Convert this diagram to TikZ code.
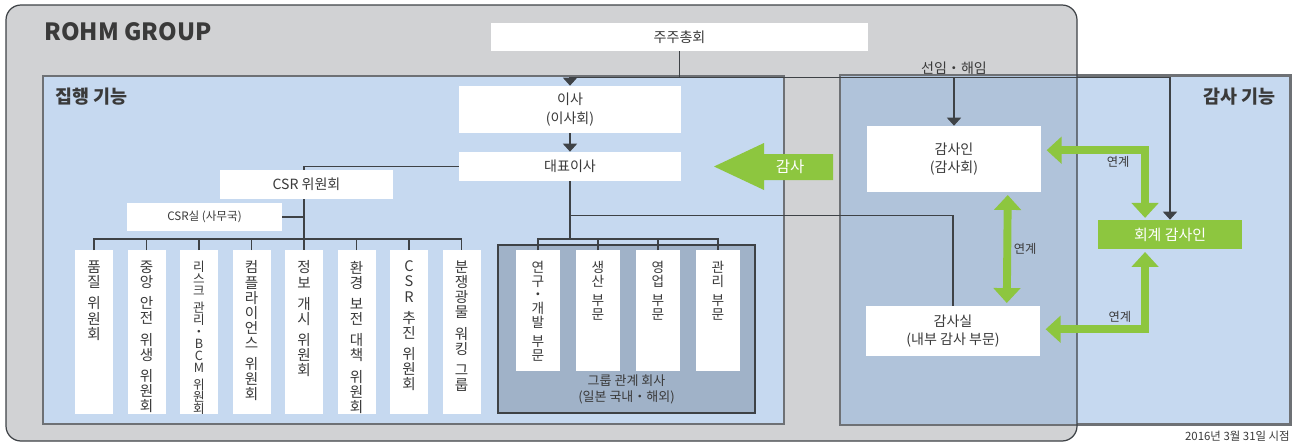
\documentclass[tikz,border=0pt]{standalone}
\usepackage{fontspec}
\setmainfont{Noto Sans CJK KR}
\usetikzlibrary{arrows.meta,positioning}
\definecolor{rohmgray}{HTML}{D1D2D4}
\definecolor{execblue}{HTML}{C6D9F0}
\definecolor{overblue}{HTML}{B0C3DA}
\definecolor{grpblue}{HTML}{A0B2C8}
\definecolor{audgreen}{HTML}{8DC63F}
\definecolor{frame}{HTML}{6E7175}
\definecolor{wirec}{HTML}{3E4246}
\definecolor{txt}{HTML}{3A3A3A}
\def\pxu{0.02cm}
\tikzset{
  sz/.style 2 args={minimum width=#1*\pxu,minimum height=#2*\pxu},
  wbox/.style={fill=white,inner sep=0pt,text=txt,align=center,font=\fontsize{8}{10.5}\selectfont},
  vbox/.style={fill=white,anchor=north,inner sep=0pt},
  vlab/.style={anchor=north,yshift=-6pt,inner sep=0pt,align=center,text=txt,font=\fontsize{8.3}{8.6}\selectfont},
  dlab/.style={vlab,font=\fontsize{7.8}{7.9}\selectfont},
  panel/.style={draw=frame,line width=1pt,inner sep=0pt},
  title/.style={text=txt,font=\bfseries\fontsize{10.5}{12}\selectfont,inner sep=0pt},
  wire/.style={draw=wirec,line width=0.6pt},
  tri/.style={wire,-{Triangle[width=8pt,length=4.5pt]}},
  link/.style={draw=audgreen,line width=4.5pt,arrows={Triangle[width=15pt,length=8.5pt]-Triangle[width=15pt,length=8.5pt]}},
  note/.style={text=txt,font=\fontsize{7}{8}\selectfont,inner sep=1.5pt}
}
\begin{document}
\begin{tikzpicture}[x=0.02cm,y=-0.02cm]
\useasboundingbox (0,0) rectangle (1293,443);
%group frame
\fill[rohmgray,rounded corners=8.5pt] (6,5) rectangle (1077,441);
\node[anchor=west,text=txt,font=\bfseries\fontsize{13.5}{15}\selectfont,inner sep=0pt] (rohm) at (44,32) {ROHM GROUP};
%panels
\node[panel,fill=execblue,sz={741}{348}] (exec) at (413.5,250) {};
\node[title,anchor=north west] (execT) at (55,88) {집행 기능};
\node[panel,fill=execblue,sz={449}{348}] (audfn) at (1065.5,250) {};
\begin{scope}
\clip[rounded corners=8.5pt] (6,5) rectangle (1077,441);
\fill[overblue] (audfn.south west) rectangle (audfn.north east);
\end{scope}
\draw[frame,line width=1pt] (audfn.south west) rectangle (audfn.north east);
\draw[wirec,line width=0.7pt,rounded corners=8.5pt] (6,5) rectangle (1077,441);
\node[title,anchor=north east] (audT) at (1276,88) {감사 기능};
%
\node[wbox,sz={377}{28}] (gm) at (679.5,37) {주주총회};
\node[wbox,sz={222}{47}] (bod) at (570,109.5) {이사\\(이사회)};
\node[wbox,sz={222}{29}] (rep) at (570,166.5) {대표이사};
%committees
\node[vbox,sz={38}{164},label={[vlab]north:{품\\질\\[3.5pt]위\\원\\회}}] (c1) at (94,250) {};
\node[vbox,sz={38}{164},label={[vlab]north:{중\\앙\\[3.5pt]안\\전\\[3.5pt]위\\생\\[3.5pt]위\\원\\회}}] (c2) at (146.5,250) {};
\node[vbox,sz={38}{164},label={[vlab,font=\fontsize{7.2}{6.9}\selectfont]north:{리\\스\\크\\[2.5pt]관\\리\\・\\B\\C\\M\\[2.5pt]위\\원\\회}}] (c3) at (199,250) {};
\node[vbox,sz={38}{164},label={[vlab]north:{컴\\플\\라\\이\\언\\스\\[3.5pt]위\\원\\회}}] (c4) at (251.5,250) {};
\node[vbox,sz={38}{164},label={[vlab]north:{정\\보\\[3.5pt]개\\시\\[3.5pt]위\\원\\회}}] (c5) at (304,250) {};
\node[vbox,sz={38}{164},label={[vlab]north:{환\\경\\[3.5pt]보\\전\\[3.5pt]대\\책\\[3.5pt]위\\원\\회}}] (c6) at (356.5,250) {};
\node[vbox,sz={38}{164},label={[vlab]north:{C\\S\\R\\[3.5pt]추\\진\\[3.5pt]위\\원\\회}}] (c7) at (409,250) {};
\node[vbox,sz={38}{164},label={[vlab]north:{분\\쟁\\광\\물\\[3.5pt]워\\킹\\[3.5pt]그\\룹}}] (c8) at (461.5,250) {};
\draw[wire] (c1.north) -- ++(0,-11) -| (c8.north);
\foreach \c in {c2,c3,c4,c6,c7} \draw[wire] (\c.north) -- ++(0,-11);
\draw[wire] (rep.west) -| (c5.north);
\node[wbox,sz={173}{29}] (csr) at (306.5,184.5) {CSR 위원회};
\node[wbox,sz={155}{28},font=\fontsize{6.6}{8}\selectfont] (office) at (204.5,217) {CSR실 (사무국)};
\draw[wire] (office.east) -- (office.east -| c5.north);
%group companies
\node[draw=wirec,line width=0.7pt,fill=grpblue,sz={257}{168},label={[note,anchor=south,yshift=4pt,align=center,font=\fontsize{7.4}{9}\selectfont]south:{그룹 관계 회사\\(일본 국내・해외)}}] (grp) at (626.5,329) {};
\node[vbox,sz={44}{121},label={[dlab]north:{연\\구\\・\\개\\발\\[3pt]부\\문}}] (d1) at (538,250) {};
\node[vbox,sz={44}{121},label={[dlab]north:{생\\산\\[3pt]부\\문}}] (d2) at (598,250) {};
\node[vbox,sz={44}{121},label={[dlab]north:{영\\업\\[3pt]부\\문}}] (d3) at (658,250) {};
\node[vbox,sz={44}{121},label={[dlab]north:{관\\리\\[3pt]부\\문}}] (d4) at (718,250) {};
\draw[wire] (d1.north) -- ++(0,-11) -| (d4.north);
\foreach \d in {d2,d3} \draw[wire] (\d.north) -- ++(0,-11);
%audit side
\node[wbox,sz={174}{66}] (auditor) at (954,159) {감사인\\(감사회)};
\node[wbox,sz={174}{50}] (lab) at (953,331) {감사실\\(내부 감사 부문)};
\node[wbox,fill=audgreen,text=white,sz={144}{29},font=\fontsize{8.5}{10}\selectfont] (ext) at (1170,234.5) {회계 감사인};
%connectors
\draw[wire] (gm.south) -- ++(0,26) coordinate(selBus);
\draw[tri] (selBus) -| (bod.north);
\draw[tri] (selBus) -| (auditor.north) node[note,pos=0.5,above,font=\fontsize{8}{9}\selectfont]{선임・해임};
\draw[tri] (selBus) -| (ext.north);
\draw[tri] (bod.south) -- (rep.north);
\draw[wire] (rep.south) -- ++(0,34) coordinate(tap) -- ++(0,24);
\draw[wire] (tap) -| (lab.north);
%audit arrow
\fill[audgreen] (833,154) -- (764,154) -- (764,143) -- (714,166.5) -- (764,190) -- (764,180) -- (833,180) -- cycle;
\node[text=white,font=\fontsize{8.8}{10}\selectfont] (audit) at (790,167) {감사};
%links
\draw[link,shorten <=3pt,shorten >=1pt] ([yshift=5pt]auditor.east) -| ([xshift=-14.2pt]ext.north) node[note,pos=0.37,below]{연계};
\draw[link,shorten <=1.5pt,shorten >=1.5pt] ([xshift=30.6pt]auditor.south) -- ([xshift=30.6pt]lab.north) node[note,midway,right]{연계};
\draw[link,shorten <=1.5pt,shorten >=3pt] ([xshift=-14.2pt]ext.south) |- ([yshift=1pt]lab.east) node[note,pos=0.62,above]{연계};
\node[note,anchor=south east,inner sep=0pt,font=\fontsize{6.5}{7}\selectfont] (asof) at (1290,442) {2016년 3월 31일 시점};
\end{tikzpicture}
\end{document}
